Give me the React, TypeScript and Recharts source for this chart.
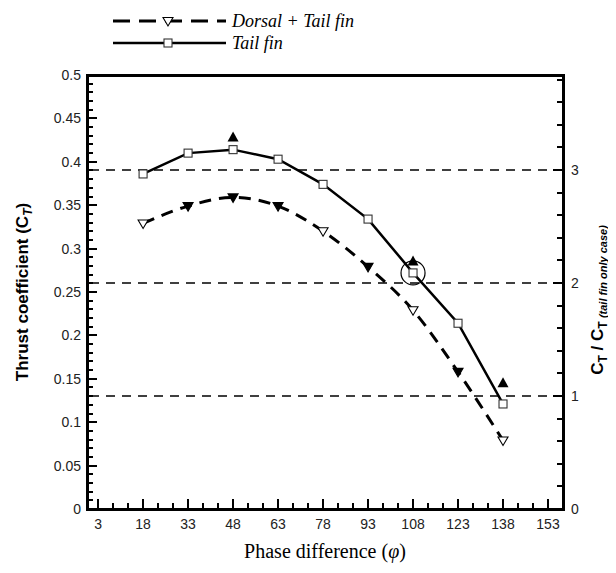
import { ComposedChart, Line, XAxis, YAxis, ReferenceLine, ReferenceDot } from "recharts";

// phase difference (deg) and thrust coefficients
const phase = [18, 33, 48, 63, 78, 93, 108, 123, 138];
const dorsalTail = [0.329, 0.349, 0.359, 0.349, 0.32, 0.279, 0.229, 0.158, 0.079];
const dorsalFilled = [false, true, true, true, false, true, false, true, false];
const tailFin = [0.386, 0.41, 0.414, 0.403, 0.374, 0.334, 0.272, 0.214, 0.121];
const extraPhase = [48, 108, 138];
const extraCt = [0.428, 0.285, 0.145];

const ratioLevels = [1, 2, 3];
const ratioBase = 0.1302; // C_T of the tail fin only case
const circledIndex = 6;

const xMajor = [3, 18, 33, 48, 63, 78, 93, 108, 123, 138, 153];
const xTicks: number[] = [];
for (let v = 3; v <= 158; v += 5) xTicks.push(v);
const yTicks: number[] = [];
for (let i = 0; i <= 50; i++) yTicks.push(i / 100);
const rTicks: number[] = [];
for (let i = 0; i <= 19; i++) rTicks.push(Math.round(i * 2) / 10);

const X_DOMAIN: [number, number] = [-0.7, 158];
const Y_DOMAIN: [number, number] = [0, 0.5];
const R_DOMAIN: [number, number] = [0, 0.5 / ratioBase];

const lineData = phase.map((p, i) => ({
    phase: p, dorsal: dorsalTail[i], tail: tailFin[i], filled: dorsalFilled[i], ratio: tailFin[i] / ratioBase,
}));
const extraData = extraPhase.map((p, i) => ({ phase: p, ct: extraCt[i] }));

const INK = "#000";
const TICK_FONT = "'Liberation Sans', Arial, sans-serif";
const SERIF = "'Liberation Serif', 'Times New Roman', serif";

// plot box (margins + axis sizes below)
const W = 616, H = 573;
const PL = 87, PR = 563, PT = 75, PB = 509;
const sx = (v: number) => PL + ((v - X_DOMAIN[0]) / (X_DOMAIN[1] - X_DOMAIN[0])) * (PR - PL);
const sy = (v: number) => PB - ((v - Y_DOMAIN[0]) / (Y_DOMAIN[1] - Y_DOMAIN[0])) * (PB - PT);
const sr = (v: number) => PB - ((v - R_DOMAIN[0]) / (R_DOMAIN[1] - R_DOMAIN[0])) * (PB - PT);

const XTick = ({ x, y, payload }: any) =>
    xMajor.includes(payload.value) ? (
        <text x={x} y={y + 20} textAnchor="middle" fontSize={14} fontFamily={TICK_FONT} fill="#222">
            {payload.value}
        </text>
    ) : <g />;

const YTick = ({ x, y, payload }: any) => {
    const n = Math.round(payload.value * 100);
    return n % 5 === 0 ? (
        <text x={x - 6} y={y + 5} textAnchor="end" fontSize={14} fontFamily={TICK_FONT} fill="#222">
            {n === 0 ? "0" : String(n / 100)}
        </text>
    ) : <g />;
};

const RTick = ({ x, y, payload }: any) => {
    const n = Math.round(payload.value * 10);
    return n % 10 === 0 ? (
        <text x={x + 8} y={y + 5} textAnchor="start" fontSize={14} fontFamily={TICK_FONT} fill="#222">
            {n / 10}
        </text>
    ) : <g />;
};

const DownTri = ({ cx, cy, filled }: { cx: number; cy: number; filled: boolean }) => (
    <path d={`M${cx - 5},${cy - 3.5} L${cx + 5},${cy - 3.5} L${cx},${cy + 5} Z`}
        fill={filled ? INK : "#fff"} stroke={INK} strokeWidth={1.1} />
);

const UpTri = ({ cx, cy }: { cx: number; cy: number }) => (
    <path d={`M${cx},${cy - 6} L${cx + 5.5},${cy + 4} L${cx - 5.5},${cy + 4} Z`} fill={INK} />
);

const Sq = ({ cx, cy }: { cx: number; cy: number }) => (
    <rect x={cx - 4} y={cy - 4} width={8} height={8} fill="#fff" stroke="#333" strokeWidth={1.1} />
);

const App = () => {
    return (
        <div style={{ position: "relative", width: W, height: H, margin: -8, background: "#fff" }}>
            <div style={{ position: "absolute", left: 0, top: 0 }}>
                <ComposedChart width={W} height={H} margin={{ top: PT, right: 0, bottom: 0, left: 0 }}>
                    <XAxis xAxisId="b" dataKey="phase" type="number" domain={X_DOMAIN} ticks={xTicks} interval={0}
                        height={H - PB} tickSize={0} tickMargin={0} tickLine={false} axisLine={false} tick={<XTick />} />
                    <YAxis yAxisId="l" type="number" domain={Y_DOMAIN} ticks={yTicks} interval={0} width={PL}
                        tickSize={0} tickMargin={0} tickLine={false} axisLine={false} tick={<YTick />} />
                    <YAxis yAxisId="r" orientation="right" type="number" domain={R_DOMAIN} ticks={rTicks}
                        interval={0} width={W - PR} tickSize={0} tickMargin={0} tickLine={false}
                        axisLine={false} tick={<RTick />} />

                    {/* invisible series so the ratio axis gets a scale */}
                    <Line xAxisId="b" yAxisId="r" data={lineData} dataKey="ratio" stroke="none" dot={false}
                        activeDot={false} isAnimationActive={false} />

                    {ratioLevels.map((r) => (
                        <ReferenceLine key={r} xAxisId="b" yAxisId="r" y={r} stroke={INK} strokeWidth={1.5} strokeDasharray="9 7" />
                    ))}

                    <Line xAxisId="b" yAxisId="l" data={lineData} dataKey="dorsal" type="monotone" stroke={INK}
                        strokeWidth={3} strokeDasharray="12 8" isAnimationActive={false}
                        dot={(p: any) => <DownTri key={p.index} cx={p.cx} cy={p.cy} filled={p.payload.filled} />} />
                    <Line xAxisId="b" yAxisId="l" data={lineData} dataKey="tail" type="linear" stroke={INK}
                        strokeWidth={2.5} isAnimationActive={false}
                        dot={(p: any) => <Sq key={p.index} cx={p.cx} cy={p.cy} />} />
                    <Line xAxisId="b" yAxisId="l" data={extraData} dataKey="ct" stroke="none" isAnimationActive={false}
                        dot={(p: any) => <UpTri key={p.index} cx={p.cx} cy={p.cy} />} />

                    <ReferenceDot xAxisId="b" yAxisId="l" x={phase[circledIndex]} y={tailFin[circledIndex]} r={12}
                        fill="none" stroke={INK} strokeWidth={1.2} />
                </ComposedChart>
            </div>

            {/* frame, inward ticks, legend and axis titles */}
            <svg width={W} height={H} style={{ position: "absolute", left: 0, top: 0, pointerEvents: "none" }}>
                <path d={`M${PL},${PT} H${PR} V${PB} H${PL} Z`} fill="none" stroke={INK} strokeWidth={3}
                    strokeLinejoin="miter" shapeRendering="crispEdges" />
                {xTicks.map((v) => {
                    const major = xMajor.includes(v);
                    const px = Math.round(sx(v));
                    return <path key={"x" + v} d={`M${px},${PB} V${PB - (major ? 10 : 6)}`}
                        stroke={INK} strokeWidth={major ? 2.5 : 1.5} shapeRendering="crispEdges" />;
                })}
                {yTicks.map((v, i) => {
                    const major = i % 5 === 0;
                    const py = Math.round(sy(v));
                    return <path key={"y" + i} d={`M${PL},${py} H${PL + (major ? 10 : 6)}`}
                        stroke={INK} strokeWidth={major ? 2.5 : 1.5} shapeRendering="crispEdges" />;
                })}
                {rTicks.map((v, i) => {
                    const major = i % 5 === 0;
                    const py = Math.round(sr(v));
                    return <path key={"r" + i} d={`M${PR},${py} H${PR - (major ? 10 : 6)}`}
                        stroke={INK} strokeWidth={major ? 2.5 : 1.5} shapeRendering="crispEdges" />;
                })}

                <line x1={113} x2={226} y1={21} y2={21} stroke={INK} strokeWidth={3} strokeDasharray="17 9" />
                <DownTri cx={168} cy={21} filled={false} />
                <text x={232} y={27} fontFamily={SERIF} fontStyle="italic" fontSize={18} fill={INK}>Dorsal + Tail fin</text>
                <line x1={113} x2={226} y1={43} y2={43} stroke={INK} strokeWidth={2.5} />
                <Sq cx={168} cy={43} />
                <text x={232} y={49} fontFamily={SERIF} fontStyle="italic" fontSize={18} fill={INK}>Tail fin</text>

                <text transform="translate(28,292) rotate(-90)" textAnchor="middle" fontFamily={TICK_FONT}
                    fontWeight="bold" fontSize={17} fill={INK}>
                    Thrust coefficient (C<tspan fontStyle="italic" fontSize={12} dy={4}>T</tspan><tspan dy={-4}>)</tspan>
                </text>
                <text transform="translate(603,300) rotate(-90)" textAnchor="middle" fontFamily={TICK_FONT}
                    fontWeight="bold" fontSize={17} fill={INK}>
                    C<tspan fontSize={12} dy={4}>T</tspan><tspan dy={-4}> / C</tspan>
                    <tspan fontSize={12} dy={4}>T </tspan>
                    <tspan fontSize={11} fontStyle="italic">(tail fin only case)</tspan>
                </text>
                <text x={325} y={558} textAnchor="middle" fontFamily={SERIF} fontSize={20} fill={INK}>
                    Phase difference (<tspan fontStyle="italic">φ</tspan>)
                </text>
            </svg>
        </div>
    );
};

export default App;
